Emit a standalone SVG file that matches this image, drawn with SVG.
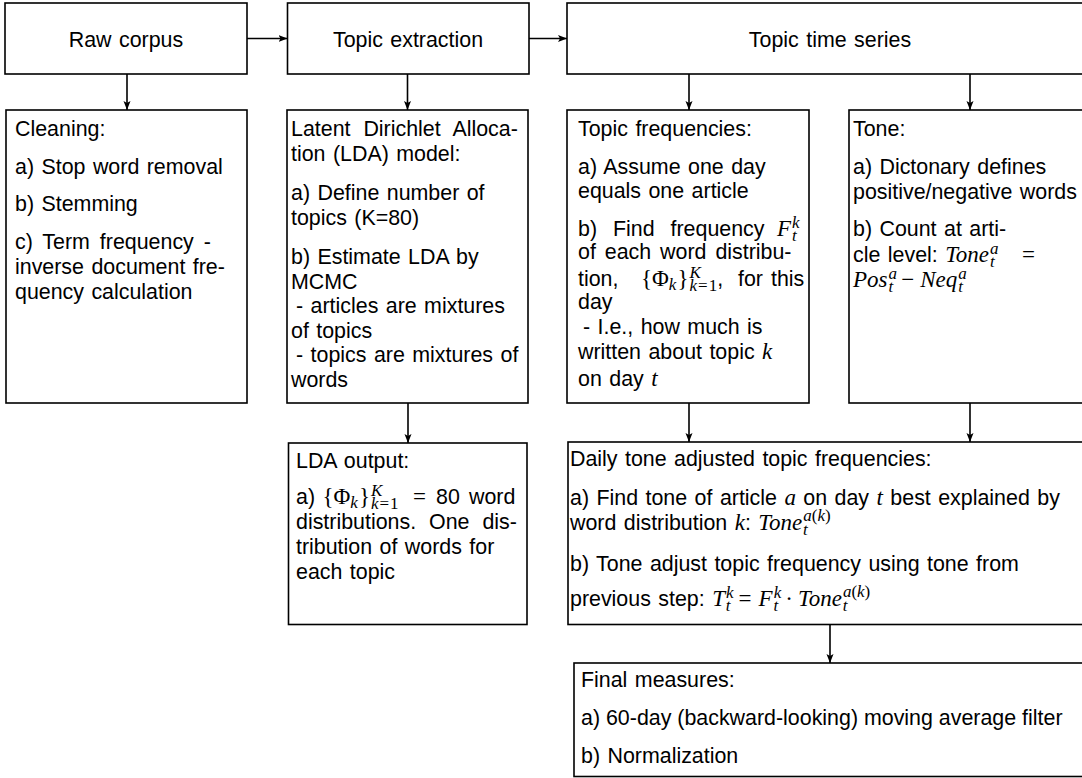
<svg xmlns="http://www.w3.org/2000/svg" width="1082" height="778" viewBox="0 0 1082 778">
<defs>
<marker id="ah" markerWidth="10" markerHeight="8" refX="9" refY="4" orient="auto" markerUnits="userSpaceOnUse"><path d="M0,0.5 L9,4 L0,7.5 L2,4 z" fill="#000"/></marker>
<style>
.box{fill:#fff;stroke:#000;stroke-width:1.6}
.t{font-family:"Liberation Sans",Arial,sans-serif;font-size:21.4px;fill:#000;word-spacing:1.5px}
.c{text-anchor:middle}
.mi{font-family:"Liberation Serif","Times New Roman",serif;font-style:italic;font-size:23px;word-spacing:0}
.mr{font-family:"Liberation Serif","Times New Roman",serif;font-style:normal;font-size:23px;word-spacing:0}
.si{font-family:"Liberation Serif","Times New Roman",serif;font-style:italic;font-size:17px;word-spacing:0}
.sr{font-family:"Liberation Serif","Times New Roman",serif;font-style:normal;font-size:17px;word-spacing:0}
.conn line{stroke:#000;stroke-width:1.6;marker-end:url(#ah)}
</style>
</defs>
<rect width="1082" height="778" fill="#fff"/>

<g class="conn" id="connectors">
<line x1="247" y1="38.5" x2="287.5" y2="38.5"/>
<line x1="529" y1="38.5" x2="567" y2="38.5"/>
<line x1="127" y1="74" x2="127" y2="110"/>
<line x1="407.5" y1="74" x2="407.5" y2="110"/>
<line x1="689" y1="74" x2="689" y2="110"/>
<line x1="970" y1="74" x2="970" y2="110"/>
<line x1="408" y1="403" x2="408" y2="443"/>
<line x1="689" y1="403" x2="689" y2="442"/>
<line x1="970" y1="403" x2="970" y2="442"/>
<line x1="830" y1="624.5" x2="830" y2="663"/>
</g>

<g id="raw-corpus">
<rect class="box" x="5" y="3" width="242" height="71"/>
<text class="t c" x="126" y="47">Raw corpus</text>
</g>

<g id="topic-extraction">
<rect class="box" x="287.5" y="3" width="241.5" height="71"/>
<text class="t c" x="408" y="47">Topic extraction</text>
</g>

<g id="topic-time-series">
<rect class="box" x="567" y="3" width="560" height="71"/>
<text class="t c" x="830" y="47">Topic time series</text>
</g>

<g id="cleaning">
<rect class="box" x="6" y="110" width="241" height="293"/>
<text class="t" x="15" y="136">Cleaning:</text>
<text class="t" x="15" y="174">a) Stop word removal</text>
<text class="t" x="15" y="211">b) Stemming</text>
<text class="t" x="15" y="249" style="word-spacing:4px">c) Term frequency -</text>
<text class="t" x="15" y="274">inverse document fre-</text>
<text class="t" x="15" y="299">quency calculation</text>
</g>

<g id="lda-model">
<rect class="box" x="287" y="110" width="241" height="293"/>
<text class="t" x="291" y="135.5" style="word-spacing:7px">Latent Dirichlet Alloca-</text>
<text class="t" x="291" y="160.5">tion (LDA) model:</text>
<text class="t" x="291" y="200">a) Define number of</text>
<text class="t" x="291" y="224.5">topics (K=80)</text>
<text class="t" x="291" y="264">b) Estimate LDA by</text>
<text class="t" x="291" y="288.5">MCMC</text>
<text class="t" x="296" y="313">- articles are mixtures</text>
<text class="t" x="291" y="337.5">of topics</text>
<text class="t" x="296" y="362">- topics are mixtures of</text>
<text class="t" x="291" y="386.5">words</text>
</g>

<g id="topic-frequencies">
<rect class="box" x="567" y="110" width="242" height="293"/>
<text class="t" x="578" y="135.5">Topic frequencies:</text>
<text class="t" x="578" y="173.5">a) Assume one day</text>
<text class="t" x="578" y="197.5">equals one article</text>
<text class="t" x="578" y="235.5" style="word-spacing:10px">b) Find frequency<tspan class="mi" x="777">F</tspan><tspan class="si" dx="1" dy="-8">k</tspan><tspan class="si" dx="-7.6" dy="13">t</tspan></text>
<text class="t" x="578" y="258.5" style="word-spacing:3px">of each word distribu-</text>
<text class="t" x="578" y="285.5">tion,<tspan class="mr" x="641">{Φ</tspan><tspan class="si" dy="4">k</tspan><tspan class="mr" dx="1" dy="-4">}</tspan><tspan class="si" dx="1" dy="-8">K</tspan><tspan class="si" dx="-11.3" dy="13">k</tspan><tspan class="sr" dx="1">=</tspan><tspan class="sr" dx="1">1</tspan><tspan dy="-5">,</tspan><tspan x="738">for</tspan><tspan x="771">this</tspan></text>
<text class="t" x="578" y="308.5">day</text>
<text class="t" x="583" y="333.5">- I.e., how much is</text>
<text class="t" x="578" y="358.5">written about topic <tspan class="mi">k</tspan></text>
<text class="t" x="578" y="385.5">on day <tspan class="mi">t</tspan></text>
</g>

<g id="tone">
<rect class="box" x="849" y="110" width="300" height="293"/>
<text class="t" x="853" y="135.5">Tone:</text>
<text class="t" x="853" y="173.5">a) Dictonary defines</text>
<text class="t" x="853" y="198.5">positive/negative words</text>
<text class="t" x="853" y="235.5">b) Count at arti-</text>
<text class="t" x="853" y="262">cle level: <tspan class="mi">Tone</tspan><tspan class="si" dx="1" dy="-8">a</tspan><tspan class="si" dx="-8.5" dy="13">t</tspan><tspan class="mr" x="1022" dy="-5">=</tspan></text>
<text class="mi" x="853" y="286.5">Pos<tspan class="si" dx="1" dy="-8">a</tspan><tspan class="si" dx="-8.5" dy="13">t</tspan><tspan class="mr" dx="8" dy="-5">−</tspan><tspan dx="6">Neq</tspan><tspan class="si" dx="1" dy="-8">a</tspan><tspan class="si" dx="-8.5" dy="13">t</tspan></text>
</g>

<g id="lda-output">
<rect class="box" x="288.5" y="443" width="238.5" height="181.5"/>
<text class="t" x="296" y="467.5">LDA output:</text>
<text class="t" x="296" y="504">a) <tspan class="mr">{Φ</tspan><tspan class="si" dy="4">k</tspan><tspan class="mr" dx="1" dy="-4">}</tspan><tspan class="si" dx="1" dy="-8">K</tspan><tspan class="si" dx="-11.3" dy="13">k</tspan><tspan class="sr" dx="1">=</tspan><tspan class="sr" dx="1">1</tspan><tspan class="mr" x="413" dy="-5">=</tspan><tspan x="436">80</tspan><tspan x="469">word</tspan></text>
<text class="t" x="296" y="528.5" style="word-spacing:7px">distributions. One dis-</text>
<text class="t" x="296" y="553.5">tribution of words for</text>
<text class="t" x="296" y="578.5">each topic</text>
</g>

<g id="daily-tone-adjusted">
<rect class="box" x="568" y="442" width="560" height="182.5"/>
<text class="t" x="570" y="466">Daily tone adjusted topic frequencies:</text>
<text class="t" x="570" y="505">a) Find tone of article <tspan class="mi">a</tspan> on day <tspan class="mi">t</tspan> best explained by</text>
<text class="t" x="570" y="529.5">word distribution <tspan class="mi">k</tspan>: <tspan class="mi">Tone</tspan><tspan class="si" dx="1" dy="-9">a</tspan><tspan class="sr">(</tspan><tspan class="si">k</tspan><tspan class="sr">)</tspan><tspan class="si" dx="-27.5" dy="14">t</tspan></text>
<text class="t" x="570" y="570.5">b) Tone adjust topic frequency using tone from</text>
<text class="t" x="570" y="605.5">previous step: <tspan class="mi">T</tspan><tspan class="si" dx="1" dy="-8">k</tspan><tspan class="si" dx="-7.6" dy="13">t</tspan><tspan class="mr" dx="8" dy="-5">=</tspan><tspan class="mi" dx="7">F</tspan><tspan class="si" dx="1" dy="-8">k</tspan><tspan class="si" dx="-7.6" dy="13">t</tspan><tspan class="mr" dx="7" dy="-5">·</tspan><tspan class="mi" dx="5">Tone</tspan><tspan class="si" dx="1" dy="-9">a</tspan><tspan class="sr">(</tspan><tspan class="si">k</tspan><tspan class="sr">)</tspan><tspan class="si" dx="-27.5" dy="14">t</tspan></text>
</g>

<g id="final-measures">
<rect class="box" x="574" y="663" width="560" height="113.5"/>
<text class="t" x="581" y="686.5">Final measures:</text>
<text class="t" x="581" y="725" style="word-spacing:0px">a) 60-day (backward-looking) moving average filter</text>
<text class="t" x="581" y="763">b) Normalization</text>
</g>
</svg>
